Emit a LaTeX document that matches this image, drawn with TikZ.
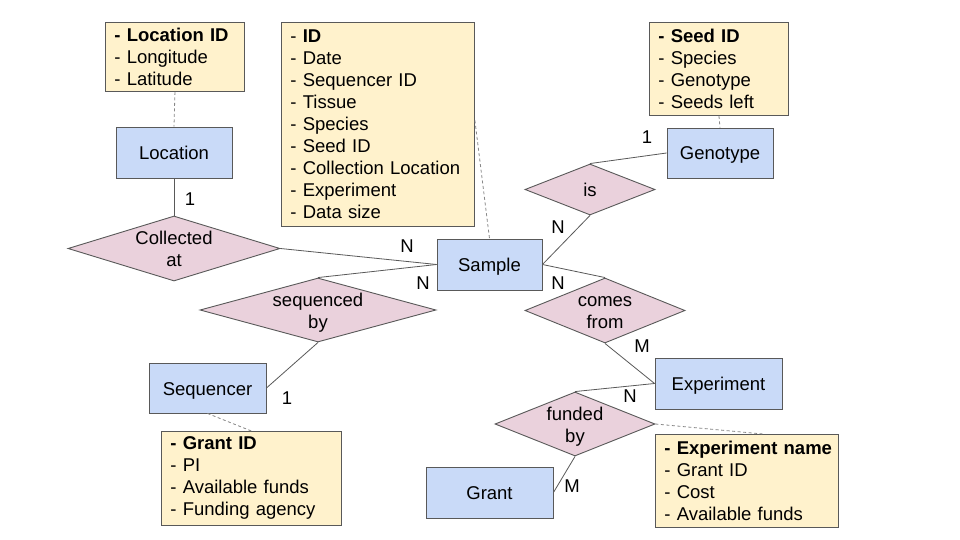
\documentclass[tikz,border=0pt]{standalone}
\usepackage{fontspec}
\setmainfont{Liberation Sans}
\usetikzlibrary{shapes.geometric}
\definecolor{entfill}{HTML}{C9DAF8}
\definecolor{relfill}{HTML}{EAD1DC}
\definecolor{attfill}{HTML}{FFF2CC}
\definecolor{edgec}{HTML}{595959}
\definecolor{dashc}{HTML}{888888}
\begin{document}
\begin{tikzpicture}[x=1pt,y=-1pt,
  font=\fontsize{18.5}{22}\selectfont,
  entity/.style={draw=edgec, fill=entfill, line width=0.9pt, inner sep=0pt, text height=14pt, text depth=0pt},
  relation/.style={shape=diamond, draw=edgec, fill=relfill, line width=0.9pt, inner sep=0pt},
  attrbox/.style={draw=edgec, fill=attfill, line width=0.9pt, anchor=north west, align=left, inner xsep=9pt, inner ysep=0pt},
  link/.style={draw=edgec, line width=0.8pt},
  dlink/.style={draw=dashc, line width=0.8pt, dash pattern=on 3pt off 2.5pt},
  card/.style={inner sep=0pt}]
\useasboundingbox (0,0) rectangle (960,540);
\fill[white] (0,0) rectangle (960,540);

% attribute boxes
\node[attrbox, text width=121pt, minimum height=69pt] (locattr) at (105,22) {\textbf{- Location ID}\\- Longitude\\- Latitude};
\node[attrbox, text width=175pt, minimum height=204pt] (sampattr) at (281,22) {- \textbf{ID}\\- Date\\- Sequencer ID\\- Tissue\\- Species\\- Seed ID\\- Collection Location\\- Experiment\\- Data size};
\node[attrbox, text width=121pt, minimum height=93pt] (genattr) at (649,22) {\textbf{- Seed ID}\\- Species\\- Genotype\\- Seeds left};
\node[attrbox, text width=162pt, minimum height=94pt] (grantattr) at (161,431) {\textbf{- Grant ID}\\- PI\\- Available funds\\- Funding agency};
\node[attrbox, text width=173pt, inner xsep=5pt, minimum height=93pt] (expattr) at (655,434) {\hspace*{4pt}\textbf{- Experiment name}\\\hspace*{4pt}- Grant ID\\\hspace*{4pt}- Cost\\\hspace*{4pt}- Available funds};

% entities
\node[entity, minimum width=116pt, minimum height=51pt] (location) at (174,152.5) {Location};
\node[entity, minimum width=106pt, minimum height=50pt] (genotype) at (720,153) {Genotype};
\node[entity, minimum width=105pt, minimum height=51pt] (sample) at (489.5,264.5) {Sample};
\node[entity, minimum width=127pt, minimum height=51pt] (experiment) at (718.5,383.5) {Experiment};
\node[entity, minimum width=117pt, minimum height=50pt] (sequencer) at (207.5,388) {Sequencer};
\node[entity, minimum width=127pt, minimum height=51pt] (grant) at (489.5,492.5) {Grant};

% relations
\node[relation, minimum width=212pt, minimum height=65pt, label={[align=center, inner sep=0pt]center:Collected\\at}] (collected) at (174,248.5) {};
\node[relation, minimum width=130pt, minimum height=51pt, label={[inner sep=0pt]center:is}] (isrel) at (590,189.5) {};
\node[relation, minimum width=236pt, minimum height=64pt, label={[align=center, inner sep=0pt, yshift=-2.5pt]center:sequenced\\by}] (seqby) at (318,310) {};
\node[relation, minimum width=160pt, minimum height=65pt, label={[align=center, inner sep=0pt, yshift=-2pt]center:comes\\from}] (comes) at (605,310.5) {};
\node[relation, minimum width=160pt, minimum height=64pt, label={[align=center, inner sep=0pt, yshift=-2.5pt]center:funded\\by}] (funded) at (575,424) {};

% solid connectors
\draw[link] (location.south) -- (collected.north);
\draw[link] (collected.east) -- (sample.west);
\draw[link] (seqby.north) -- (sample.west);
\draw[link] (seqby.south) -- (sequencer.east);
\draw[link] (genotype.west) -- (isrel.north);
\draw[link] (isrel.south) -- (sample.east);
\draw[link] (sample.east) -- (comes.north);
\draw[link] (comes.south) -- (experiment.west);
\draw[link] (experiment.west) -- (funded.north);
\draw[link] (funded.south) -- (grant.east);

% dashed connectors
\draw[dlink] (locattr.south) -- (location.north);
\draw[dlink] ([yshift=4pt]sampattr.east) -- (sample.north);
\draw[dlink] (genattr.south) -- (genotype.north);
\draw[dlink] (sequencer.south) -- (grantattr.north);
\draw[dlink] (funded.east) -- ([xshift=16pt]expattr.north);

% cardinalities
\node[card] (c1) at (190,199) {1};
\node[card] (c2) at (407,246) {N};
\node[card] (c3) at (423,283) {N};
\node[card] (c4) at (647,137) {1};
\node[card] (c5) at (558,227) {N};
\node[card] (c6) at (558,283) {N};
\node[card] (c7) at (642,346) {M};
\node[card] (c8) at (630,396) {N};
\node[card] (c9) at (572,486) {M};
\node[card] (c10) at (287,398) {1};
\end{tikzpicture}
\end{document}
